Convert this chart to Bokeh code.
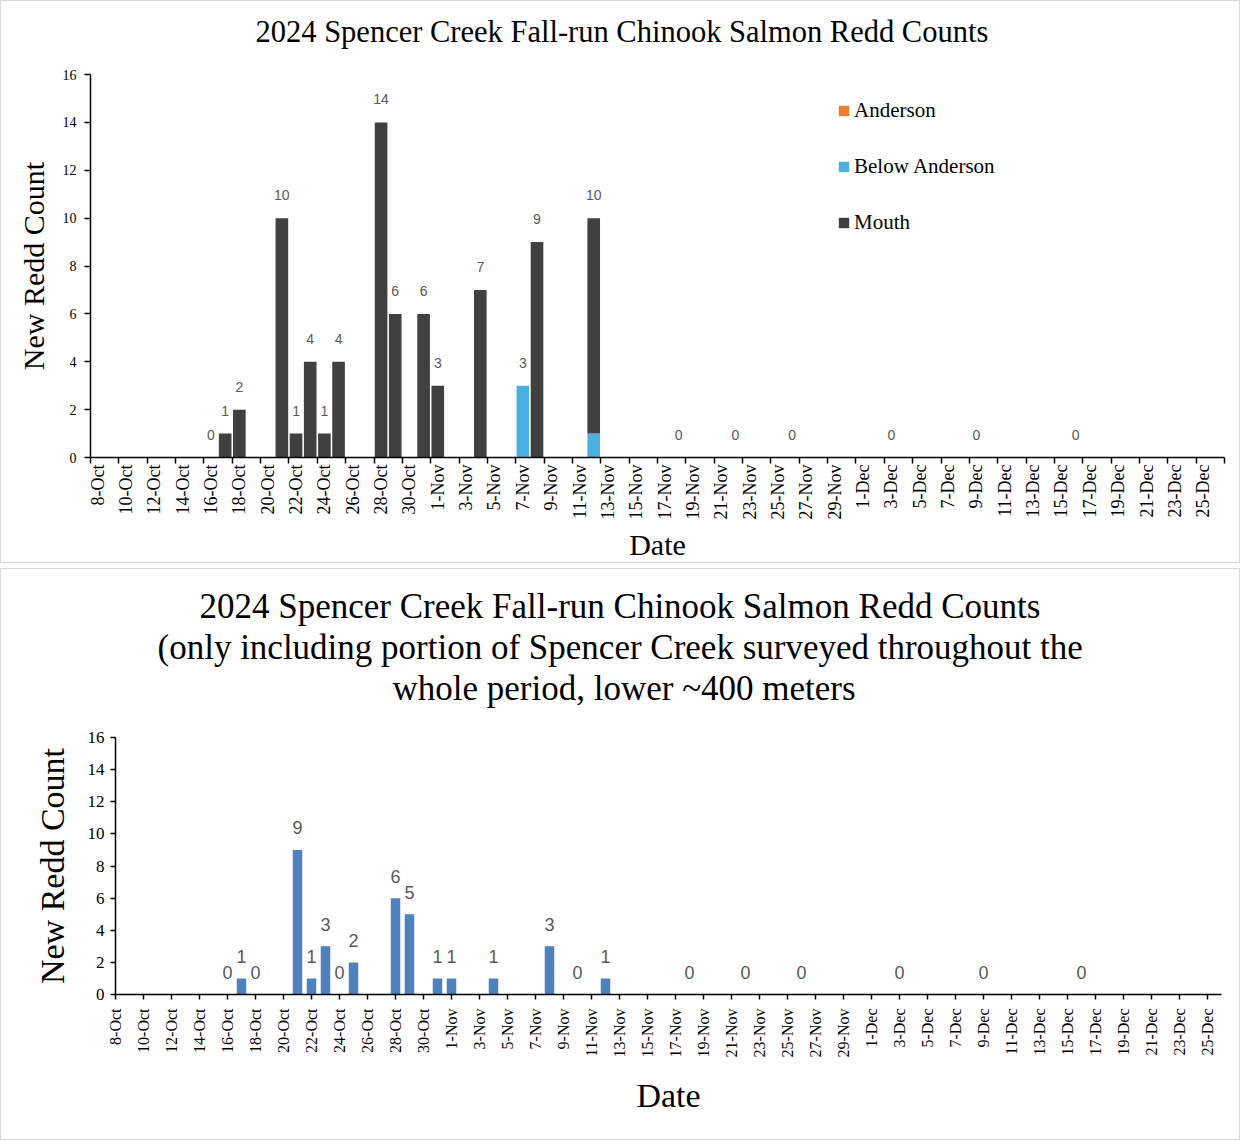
import pandas as pd
from bokeh.plotting import figure
from bokeh.models import ColumnDataSource, FixedTicker, LabelSet, Range1d, Title
from bokeh.layouts import column
from bokeh.embed import file_html
from bokeh.resources import INLINE
from bokeh.core.properties import value

# ---- categories: one per day, 8-Oct .. 26-Dec ----
days = [f"{d.day}-{d.strftime('%b')}" for d in pd.date_range("2024-10-08", "2024-12-26")]

# ---- top chart data (all sections) ----
top_dates = ["16-Oct", "17-Oct", "18-Oct", "21-Oct", "22-Oct", "23-Oct", "24-Oct", "25-Oct",
             "28-Oct", "29-Oct", "31-Oct", "1-Nov", "4-Nov", "7-Nov", "8-Nov", "12-Nov",
             "18-Nov", "22-Nov", "26-Nov", "3-Dec", "9-Dec", "16-Dec"]
anderson = [0, 0, 0, 0, 0, 0, 0, 0, 0, 0, 0, 0, 0, 0, 0, 0, 0, 0, 0, 0, 0, 0]
below_anderson = [0, 0, 0, 0, 0, 0, 0, 0, 0, 0, 0, 0, 0, 3, 0, 1, 0, 0, 0, 0, 0, 0]
mouth = [0, 1, 2, 10, 1, 4, 1, 4, 14, 6, 6, 3, 7, 0, 9, 9, 0, 0, 0, 0, 0, 0]
series_names = ["Anderson", "Below Anderson", "Mouth"]

# ---- bottom chart data (lower ~400 m only) ----
bot_dates = ["16-Oct", "17-Oct", "18-Oct", "21-Oct", "22-Oct", "23-Oct", "24-Oct", "25-Oct",
             "28-Oct", "29-Oct", "31-Oct", "1-Nov", "4-Nov", "8-Nov", "10-Nov", "12-Nov",
             "18-Nov", "22-Nov", "26-Nov", "3-Dec", "9-Dec", "16-Dec"]
lower_counts = [0, 1, 0, 9, 1, 3, 0, 2, 6, 5, 1, 1, 1, 3, 0, 1, 0, 0, 0, 0, 0, 0]

y_ticks = [0, 2, 4, 6, 8, 10, 12, 14, 16]

top_title = "2024 Spencer Creek Fall-run Chinook Salmon Redd Counts"
bottom_title = ["2024 Spencer Creek Fall-run Chinook Salmon Redd Counts",
                "(only including portion of Spencer Creek surveyed throughout the",
                "whole period, lower ~400 meters"]

SERIF = "Liberation Serif"
SANS = "Liberation Sans"
label_ticks = list(range(0, len(days), 2))
label_map = {i: days[i] for i in label_ticks}


def style_axes(p, tick_font, ylab_font, lab_size):
    p.xgrid.grid_line_color = None
    p.ygrid.grid_line_color = None
    p.outline_line_color = None
    for ax in (p.xaxis[0], p.yaxis[0]):
        ax.axis_line_color = "black"
        ax.axis_line_width = 1.5
        ax.major_tick_line_color = "black"
        ax.major_tick_line_width = 1.5
        ax.minor_tick_line_color = "black"
        ax.minor_tick_line_width = 1.5
        ax.major_label_text_font = SERIF
        ax.major_label_text_color = "black"
        ax.axis_label_text_font = SERIF
        ax.axis_label_text_font_style = "normal"
        ax.axis_label_text_color = "black"
        ax.axis_label_text_font_size = lab_size
    p.xaxis[0].major_label_text_font_size = tick_font
    p.yaxis[0].major_label_text_font_size = ylab_font
    p.xaxis[0].major_label_orientation = 3.14159265 / 2
    p.xaxis[0].major_label_overrides = label_map
    p.yaxis[0].ticker = FixedTicker(ticks=y_ticks)
    p.yaxis[0].minor_tick_line_color = None
    p.yaxis[0].major_tick_in = 0
    p.xaxis[0].axis_label = "Date"
    p.yaxis[0].axis_label = "New Redd Count"


# ================= TOP =================
p1 = figure(width=1240, height=563, x_range=Range1d(-0.5, len(days) - 0.5), y_range=Range1d(0, 16),
            output_backend="svg", toolbar_location=None, title=None,
            min_border_left=89, min_border_right=17, min_border_top=73, min_border_bottom=106)
p1.frame_align = False
p1.styles = {"border": "1px solid #d9d9d9", "box-sizing": "border-box"}

src1 = ColumnDataSource(dict(
    x=[days.index(d) for d in top_dates],
    anderson=anderson, below=below_anderson, mouth=mouth,
    total=[a + b + m for a, b, m in zip(anderson, below_anderson, mouth)],
    label=[str(a + b + m) for a, b, m in zip(anderson, below_anderson, mouth)],
))
p1.vbar_stack(["anderson", "below", "mouth"], x="x", width=0.89, source=src1,
              fill_color=["#ED7D31", "#4BAFE0", "#404040"], line_color=None,
              legend_label=series_names)
p1.add_layout(LabelSet(x="x", y="total", text="label", source=src1, y_offset=23,
                       text_align="center", text_baseline="middle", text_font=value(SANS),
                       text_font_size="14px", text_color="#595959"))

style_axes(p1, "18px", "14px", "30px")
xa = p1.xaxis[0]
xa.ticker = FixedTicker(ticks=label_ticks, minor_ticks=[i - 0.5 for i in range(0, len(days) + 1, 2)])
xa.major_tick_out = 0
xa.major_tick_in = 0
xa.minor_tick_out = 6
xa.minor_tick_in = 0
xa.major_label_standoff = 1
xa.axis_label_standoff = 6
ya = p1.yaxis[0]
ya.major_tick_out = 6
ya.major_label_standoff = 8
ya.axis_label_standoff = 10

lg = p1.legend[0]
lg.location = (747, 222)
lg.padding = 0
lg.margin = 0
lg.spacing = 31
lg.border_line_color = None
lg.background_fill_alpha = 0
lg.glyph_width = 13
lg.glyph_height = 13
lg.label_height = 24
lg.label_standoff = 4
lg.label_text_font = SERIF
lg.label_text_font_size = "21px"
lg.label_text_color = "black"

p1.add_layout(Title(text=top_title, align="left", offset=165, standoff=0,
                    padding=dict(left=0, right=0, top=0, bottom=26),
                    text_font=SERIF, text_font_size="30.5px", text_font_style="normal",
                    text_color="black"), "above")

# ================= BOTTOM =================
p2 = figure(width=1240, height=572, x_range=Range1d(0, len(days) - 1), y_range=Range1d(0, 16),
            output_backend="svg", toolbar_location=None, title=None,
            min_border_left=114, min_border_right=20, min_border_top=168, min_border_bottom=147)
p2.frame_align = False
p2.styles = {"border": "1px solid #d9d9d9", "box-sizing": "border-box"}

src2 = ColumnDataSource(dict(
    x=[days.index(d) for d in bot_dates], count=lower_counts,
    label=[str(v) for v in lower_counts],
))
p2.vbar(x="x", top="count", width=0.68, source=src2, fill_color="#4F81BD", line_color=None)
p2.add_layout(LabelSet(x="x", y="count", text="label", source=src2, y_offset=22,
                       text_align="center", text_baseline="middle", text_font=value(SANS),
                       text_font_size="18px", text_color="#595959"))

style_axes(p2, "16px", "17px", "34px")
xb = p2.xaxis[0]
xb.ticker = FixedTicker(ticks=label_ticks)
xb.major_tick_out = 5
xb.major_tick_in = 0
xb.minor_tick_line_color = None
xb.major_label_standoff = 9
xb.axis_label_standoff = 17
yb = p2.yaxis[0]
yb.major_tick_out = 5
yb.major_label_standoff = 6
yb.axis_label_standoff = 14

# lines added nearest-to-frame first; left offsets centre each line on the panel
line_offsets = [277, 42, 84]
line_pad = [30, 0, 0]
for line, off, pb in zip(bottom_title[::-1], line_offsets, line_pad):
    p2.add_layout(Title(text=line, align="left", offset=off, standoff=0,
                        padding=dict(left=0, right=0, top=0, bottom=pb),
                        text_font=SERIF, text_font_size="35px", text_font_style="normal",
                        text_color="black"), "above")

layout = column(p1, p2, spacing=5)
open("out.html", "w").write(file_html(layout, INLINE))
